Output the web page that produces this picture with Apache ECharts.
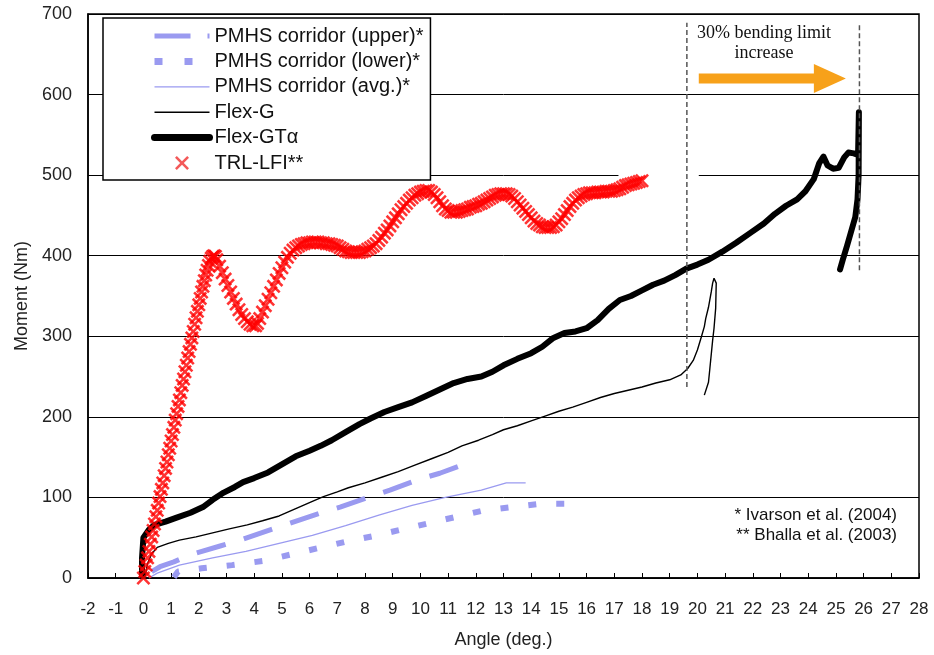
<!DOCTYPE html>
<html>
<head>
<meta charset="utf-8">
<script src="https://cdn.jsdelivr.net/npm/echarts@6/dist/echarts.min.js"></script>
<style>
  html, body { margin: 0; padding: 0; background: #fff; }
  #chart { width: 934px; height: 655px; }
</style>
</head>
<body>
<div id="chart"></div>
<script>
// Axis ranges (deg. / Nm)
const angleRange = [-2, 28];
const momentRange = [0, 700];

// PMHS corridors (Ivarson et al. 2004)
const pmhsUpper = [[0.3,8],[0.6,14],[1.1,20],[1.7,29],[2.8,40],[3.5,47],[4.6,60],[5.3,68],[6.5,82],[7.1,88],[8.2,101],[8.9,109],[10.0,123],[10.7,130],[11.8,144]];
const pmhsLower = [[1.1,1],[1.25,8],[2.1,12],[3.2,16],[4.3,21],[5.3,29],[6.3,37],[7.3,45],[8.3,52],[9.3,60],[10.3,68],[11.3,76],[12.3,84],[13.3,88],[14.3,92],[15.2,92]];
const pmhsAvg = [[0.2,0],[0.5,6],[1.3,16],[2.5,25],[3.7,33],[4.9,43],[6.1,53],[7.3,65],[8.5,78],[9.7,90],[10.9,100],[12.2,109],[13.1,118],[13.8,118]];

// Flex-G
const flexG = [[0.05,0],[0.15,18],[0.3,30],[0.5,38],[0.9,43],[1.3,47],[1.9,51],[2.5,56],[3.1,61],[3.75,66],[4.3,71],[4.9,77],[5.5,86],[6.1,95],[6.5,101],[7.0,107],[7.4,112],[8.0,118],[8.6,125],[9.2,132],[9.8,140],[10.4,148],[11.0,156],[11.5,164],[12.1,171],[12.6,178],[13.0,184],[13.5,189],[14.0,195],[14.5,201],[15.0,207],[15.5,212],[16.0,218],[16.5,224],[17.0,229],[17.5,233],[18.0,237],[18.5,242],[19.0,246],[19.4,252],[19.65,260],[19.85,270],[20.0,283],[20.15,300],[20.25,312],[20.3,322],[20.4,336],[20.5,355],[20.55,366],[20.6,372],[20.68,366],[20.66,335],[20.6,310],[20.55,295],[20.45,260],[20.4,243],[20.25,227]];

// Flex-GTα
const flexGTa = [[-0.05,3],[-0.05,25],[0.0,50],[0.2,60],[0.4,66],[0.8,70],[1.2,75],[1.7,81],[2.15,88],[2.5,97],[2.9,106],[3.3,113],[3.6,119],[4.0,124],[4.5,131],[5.0,141],[5.5,151],[6.0,158],[6.4,164],[6.8,171],[7.3,181],[7.8,191],[8.2,198],[8.7,206],[9.2,212],[9.7,218],[10.2,226],[10.7,234],[11.2,242],[11.7,247],[12.2,250],[12.6,256],[13.0,264],[13.5,272],[14.0,279],[14.4,287],[14.8,298],[15.2,304],[15.6,306],[16.0,310],[16.4,320],[16.8,334],[17.2,345],[17.6,350],[18.0,357],[18.4,364],[18.8,369],[19.2,376],[19.6,384],[20.0,389],[20.4,395],[20.9,405],[21.4,416],[21.9,428],[22.4,440],[22.8,452],[23.2,462],[23.6,470],[23.9,480],[24.2,495],[24.4,515],[24.55,523],[24.7,512],[24.9,508],[25.1,509],[25.3,522],[25.45,528],[25.65,527],[25.8,525],[25.82,560],[25.83,578],[25.82,500],[25.78,470],[25.7,448],[25.55,430],[25.4,412],[25.25,395],[25.15,383]];

// TRL-LFI (Bhalla et al. 2003)
const trlLfi = [
  [0,0],[0.05,8],[0.1,16],[0.15,25],[0.2,33],[0.25,42],[0.3,51],[0.35,59],[0.4,67],[0.45,76],[0.5,84],[0.55,93],[0.6,101],[0.65,110],[0.7,118],[0.75,127],[0.8,136],[0.85,144],[0.9,153],[0.95,161],[1.0,170],[1.05,178],[1.1,187],[1.15,196],[1.2,204],[1.25,213],[1.3,221],[1.35,230],[1.4,239],[1.45,247],[1.5,256],[1.55,264],[1.6,273],[1.65,281],[1.7,290],[1.75,298],[1.8,306],[1.85,315],[1.9,323],[1.95,331],[2.0,339],[2.05,347],[2.1,355],[2.15,362],[2.2,369],[2.25,376],[2.3,382],[2.35,388],[2.4,393],[2.45,397],[2.5,399],[2.55,400],[2.6,399],
  [2.65,395],[2.75,387],[2.85,379],[2.95,371],[3.05,363],[3.15,355],[3.25,347],[3.35,340],[3.45,333],[3.55,327],[3.65,322],[3.75,318],[3.85,315],[3.95,313],[4.05,313],[4.12,316],
  [4.2,322],[4.3,330],[4.4,338],[4.5,346],[4.6,354],[4.7,362],[4.8,370],[4.9,378],[5.0,385],[5.1,392],[5.2,398],[5.3,403],[5.4,407],[5.5,410],[5.6,412],[5.7,414],[5.8,415],
  [5.9,416],[6.0,416],[6.1,417],[6.2,417],[6.3,417],[6.4,416],[6.5,416],[6.6,415],[6.7,415],[6.8,414],[6.9,413],[7.0,412],[7.1,410],[7.2,408],[7.3,406],[7.4,405],[7.5,404],[7.6,404],[7.7,404],[7.8,404],[7.9,405],[8.0,406],[8.1,408],
  [8.2,410],[8.3,412],[8.4,415],[8.5,419],[8.6,423],[8.7,428],[8.8,432],[8.9,437],[9.0,442],[9.1,447],[9.2,452],[9.3,457],[9.4,461],[9.5,465],[9.6,469],[9.7,472],[9.8,475],[9.9,477],[10.0,479],[10.1,480],[10.2,481],[10.3,481],[10.4,479],
  [10.5,476],[10.6,472],[10.7,467],[10.8,462],[10.9,458],[11.0,456],[11.1,454],[11.2,454],[11.3,454],[11.4,455],[11.5,456],[11.6,457],[11.7,458],
  [11.8,460],[11.9,461],[12.0,462],[12.1,464],[12.2,465],[12.3,467],[12.4,469],[12.5,471],[12.6,473],[12.7,475],[12.8,476],[12.9,477],[13.0,477],[13.1,477],[13.2,476],[13.3,474],
  [13.4,471],[13.5,467],[13.6,463],[13.7,459],[13.8,455],[13.9,451],[14.0,447],[14.1,443],[14.2,440],[14.3,438],[14.4,436],[14.5,435],[14.6,435],[14.7,435],[14.8,436],[14.9,438],
  [15.0,442],[15.1,446],[15.2,451],[15.3,456],[15.4,461],[15.5,465],[15.6,469],[15.7,472],[15.8,474],[15.9,476],[16.0,477],[16.1,478],[16.2,478],
  [16.3,478],[16.4,479],[16.5,479],[16.6,479],[16.7,480],[16.8,480],[16.9,480],[17.0,481],[17.1,482],[17.2,483],[17.3,485],[17.4,487],[17.5,488],[17.6,489],[17.7,490],[17.8,491],[17.9,492],[18.0,493]
];

// 30% bending limit markers: [angle, bottom moment, top moment]
const limitLines = [[19.62, 237, 689], [25.85, 382, 689]];
// Arrow: [start angle, tip angle, moment]
const arrowSpan = [[20.05, 25.36, 620]];
// Stretch of the 500 Nm grid line left blank: [from angle, to angle, moment]
const gridGap = [17.15, 20.05, 500];

const names = {
  upper: 'PMHS corridor (upper)*',
  lower: 'PMHS corridor (lower)*',
  avg: 'PMHS corridor (avg.)*',
  flexG: 'Flex-G',
  flexGTa: 'Flex-GTα',
  trl: 'TRL-LFI**'
};

const LAV = '#9a9af0';
const SANS = '"Liberation Sans", Arial, sans-serif';
// thin-armed "x" marker
const crossPath = 'path://M0,1.3L1.3,0L5,3.7L8.7,0L10,1.3L6.3,5L10,8.7L8.7,10L5,6.3L1.3,10L0,8.7L3.7,5Z';

const chart = echarts.init(document.getElementById('chart'), null, { renderer: 'canvas' });

function renderArrow(params, api) {
  const start = api.coord([api.value(0), api.value(2)]);
  const tip = api.coord([api.value(1), api.value(2)]);
  const headLen = 32, shaftHalf = 5, headHalf = 14.5;
  const bx = tip[0] - headLen, y = start[1];
  return {
    type: 'polygon',
    shape: { points: [[start[0], y - shaftHalf], [bx, y - shaftHalf], [bx, y - headHalf], [tip[0], y], [bx, y + headHalf], [bx, y + shaftHalf], [start[0], y + shaftHalf]] },
    style: { fill: '#f7a11a' }
  };
}

const limitSeries = limitLines.map((l, i) => ({
  type: 'line',
  name: 'limit' + i,
  data: [[l[0], l[1]], [l[0], l[2]]],
  symbol: 'none',
  silent: true,
  lineStyle: { color: '#555', width: 1.5, type: [5, 3] },
  z: 3
}));

chart.setOption({
  animation: false,
  grid: { left: 88, right: 15, top: 14, bottom: 77, show: true, borderColor: '#000', borderWidth: 1.5, backgroundColor: 'transparent' },
  xAxis: {
    type: 'value', min: angleRange[0], max: angleRange[1], interval: 1,
    name: 'Angle (deg.)', nameLocation: 'middle', nameGap: 53,
    nameTextStyle: { fontFamily: SANS, fontSize: 18, color: '#222' },
    axisLine: { show: true, onZero: false, lineStyle: { color: '#000', width: 1.5 } },
    axisTick: { show: true, inside: true, length: 5, lineStyle: { color: '#000', width: 1 } },
    axisLabel: { fontFamily: SANS, fontSize: 17, color: '#222', margin: 23, showMinLabel: true, showMaxLabel: true },
    splitLine: { show: false }
  },
  yAxis: {
    type: 'value', min: momentRange[0], max: momentRange[1], interval: 100,
    name: 'Moment (Nm)', nameLocation: 'middle', nameGap: 56,
    nameTextStyle: { fontFamily: SANS, fontSize: 18, color: '#222' },
    axisLine: { show: true, onZero: false, lineStyle: { color: '#000', width: 1.5 } },
    axisTick: { show: false },
    axisLabel: { fontFamily: SANS, fontSize: 18, color: '#222', margin: 16 },
    splitLine: { show: true, lineStyle: { color: '#000', width: 1 } }
  },
  legend: {
    left: 103, top: 18, orient: 'vertical', align: 'left',
    backgroundColor: '#fff', borderColor: '#000', borderWidth: 1.5,
    padding: [8, 7, 7, 48], itemGap: 5.4, itemWidth: 55, itemHeight: 14,
    selectedMode: false,
    textStyle: { fontFamily: SANS, fontSize: 20, color: '#111' },
    data: [
      { name: names.upper, lineStyle: { width: 5, type: [36, 17], color: LAV }, itemStyle: { opacity: 0 } },
      { name: names.lower, lineStyle: { width: 7, type: [8, 22], color: LAV }, itemStyle: { opacity: 0 } },
      { name: names.avg, lineStyle: { width: 1.3, color: LAV }, itemStyle: { opacity: 0 } },
      { name: names.flexG, lineStyle: { width: 1.5, color: '#000' }, itemStyle: { opacity: 0 } },
      { name: names.flexGTa, lineStyle: { width: 7, color: '#000', cap: 'round' }, itemStyle: { opacity: 0 } },
      { name: names.trl, itemStyle: { color: '#f03030' } }
    ]
  },
  series: [
    { type: 'line', name: names.upper, data: pmhsUpper, symbol: 'none', color: LAV,
      lineStyle: { color: LAV, width: 5, type: [30, 19] } },
    { type: 'line', name: names.lower, data: pmhsLower, symbol: 'none', color: LAV,
      lineStyle: { color: LAV, width: 6, type: [8, 20] } },
    { type: 'line', name: names.avg, data: pmhsAvg, symbol: 'none', color: LAV,
      lineStyle: { color: LAV, width: 1.3 } },
    { type: 'line', name: names.flexG, data: flexG, symbol: 'none', color: '#000',
      lineStyle: { color: '#000', width: 1.4 } },
    { type: 'line', name: names.flexGTa, data: flexGTa, symbol: 'none', color: '#000',
      lineStyle: { color: '#000', width: 6, join: 'round', cap: 'round' } },
    { type: 'scatter', name: names.trl, data: trlLfi, symbol: crossPath, symbolSize: 14,
      itemStyle: { color: '#ff0000' }, z: 4 },
    ...limitSeries,
    { type: 'custom', name: 'arrow', data: arrowSpan, renderItem: renderArrow,
      encode: { x: [0, 1], y: 2 }, silent: true, z: 5 }
  ]
});

// Text annotations and the blank stretch of the 500 Nm grid line
const g0 = chart.convertToPixel({ gridIndex: 0 }, [gridGap[0], gridGap[2]]);
const g1 = chart.convertToPixel({ gridIndex: 0 }, [gridGap[1], gridGap[2]]);
chart.setOption({
  graphic: [
    { type: 'rect', z: 1, silent: true,
      shape: { x: g0[0], y: g0[1] - 2, width: g1[0] - g0[0], height: 4 },
      style: { fill: '#fff' } },
    { type: 'text', x: 764, y: 23, z: 10, silent: true,
      style: { text: '30% bending limit\nincrease', font: '18px "Liberation Serif", "Times New Roman", serif',
               textAlign: 'center', textVerticalAlign: 'top', lineHeight: 20, fill: '#111' } },
    { type: 'text', x: 897, y: 505, z: 10, silent: true,
      style: { text: '* Ivarson et al. (2004)\n** Bhalla et al. (2003)', font: '17px ' + SANS,
               textAlign: 'right', textVerticalAlign: 'top', lineHeight: 20, fill: '#111' } }
  ]
});
</script>
</body>
</html>
